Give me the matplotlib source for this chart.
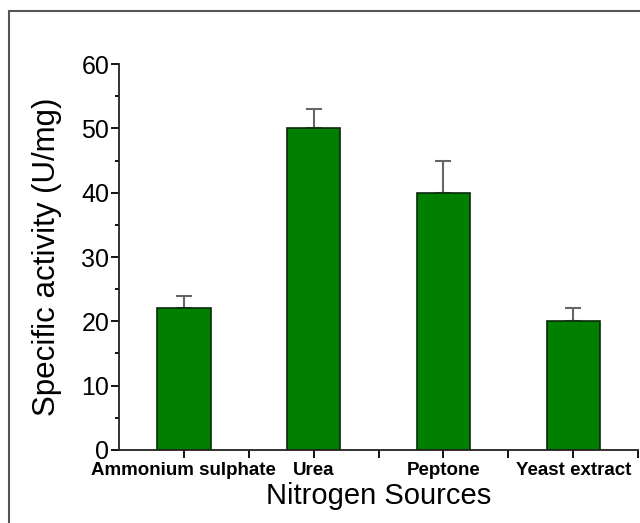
import numpy as np
import matplotlib
matplotlib.use("Agg")
import matplotlib.pyplot as plt
from matplotlib.patches import Rectangle
from matplotlib.ticker import MultipleLocator, FixedLocator

sources = ["Ammonium sulphate", "Urea", "Peptone", "Yeast extract"]
activity = [22, 50, 40, 20]
errors = [2, 3, 5, 2]

plt.rcParams["font.family"] = ["Liberation Sans", "DejaVu Sans"]

fig = plt.figure(figsize=(6.4, 5.23), dpi=100)
ax = fig.add_axes([0.186, 0.1396, 0.811, 0.738])

# outer frame of the figure
fig.patches.append(Rectangle((9 / 640, -0.1), 1.2, 1.1 - 11 / 523,
                             transform=fig.transFigure, fill=False,
                             edgecolor="#555555", linewidth=1.5))

x = np.arange(len(sources))
ax.bar(x, activity, width=0.41, color="#007f00", edgecolor="#0a2a0a",
       linewidth=1.2, zorder=2)
ax.errorbar(x, activity, yerr=[np.zeros(len(errors)), errors], fmt="none",
            ecolor="#666666", elinewidth=1.5, capsize=6, capthick=1.5, zorder=1)

ax.set_xlim(-0.5, 3.5)
ax.set_ylim(0, 60)
ax.yaxis.set_major_locator(MultipleLocator(10))
ax.yaxis.set_minor_locator(MultipleLocator(5))
ax.set_xticks(x)
ax.xaxis.set_minor_locator(FixedLocator([0.5, 1.5, 2.5, 3.5]))
ax.set_xticklabels(sources, fontsize=13.5, fontweight="bold")

for s in ["top", "right"]:
    ax.spines[s].set_visible(False)
for s in ["left", "bottom"]:
    ax.spines[s].set_linewidth(1.3)
    ax.spines[s].set_color("#222222")

ax.tick_params(axis="y", which="major", length=6, width=1.3, labelsize=18, pad=1)
ax.tick_params(axis="y", which="minor", length=3, width=1.3)
ax.tick_params(axis="x", which="major", length=6, width=1.3, pad=3)
ax.tick_params(axis="x", which="minor", length=6, width=1.3)

ax.set_ylabel("Specific activity (U/mg)", fontsize=22.5, labelpad=14)
ax.set_xlabel("Nitrogen Sources", fontsize=21, labelpad=2)

fig.savefig("out.png", dpi=100)
